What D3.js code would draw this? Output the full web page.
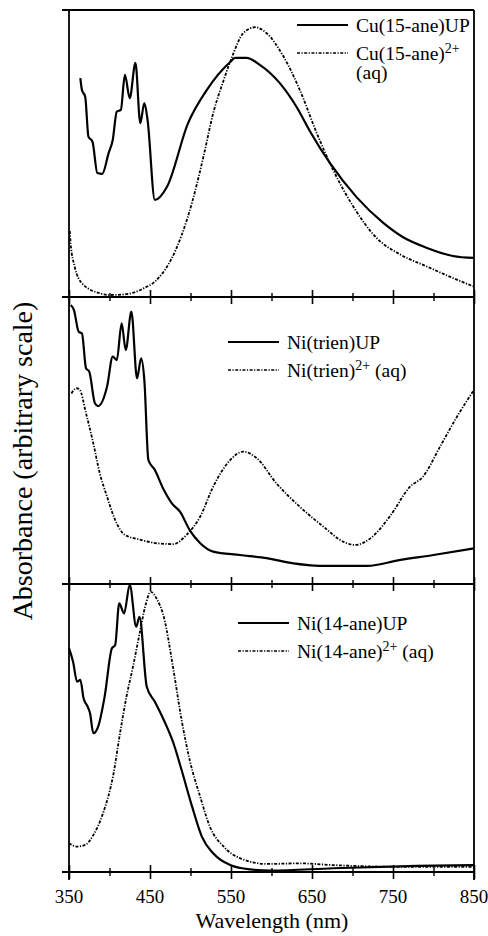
<!DOCTYPE html>
<html>
<head>
<meta charset="utf-8">
<script src="https://cdn.jsdelivr.net/npm/d3@7/dist/d3.min.js"></script>
<style>
  body { margin: 0; background: #fff; }
</style>
</head>
<body>
<svg id="chart" width="488" height="936"></svg>
<script>
// wavelength (nm) / absorbance (arbitrary, 0..1 per panel)
var cuUpWl  = [364, 366, 370, 374, 379, 385, 391, 399, 404, 409, 414, 419, 425, 432, 438, 443, 447, 456, 471, 497, 520, 549, 555, 569, 586, 610, 631, 648, 672, 705, 738, 762, 792, 824, 850];
var cuUpAbs = [0.763, 0.721, 0.698, 0.559, 0.541, 0.432, 0.429, 0.502, 0.547, 0.646, 0.652, 0.774, 0.693, 0.816, 0.606, 0.676, 0.617, 0.338, 0.384, 0.606, 0.721, 0.819, 0.833, 0.833, 0.808, 0.746, 0.662, 0.575, 0.467, 0.348, 0.258, 0.209, 0.171, 0.143, 0.136];

var cuAqWl  = [351, 352, 357, 366, 388, 401, 421, 442, 458, 475, 489, 502, 516, 528, 541, 553, 565, 580, 594, 615, 635, 656, 676, 701, 730, 759, 792, 820, 850];
var cuAqAbs = [0.23, 0.187, 0.106, 0.048, 0.013, 0.007, 0.010, 0.030, 0.059, 0.125, 0.215, 0.33, 0.489, 0.640, 0.756, 0.849, 0.919, 0.940, 0.919, 0.837, 0.721, 0.570, 0.443, 0.315, 0.205, 0.148, 0.106, 0.071, 0.036];

var niTrUpWl  = [352, 356, 362, 366, 371, 375, 382, 386, 397, 404, 409, 415, 420, 427, 434, 439, 443, 448, 456, 467, 477, 487, 499, 512, 528, 561, 594, 627, 668, 718, 759, 800, 850];
var niTrUpAbs = [0.972, 0.955, 0.879, 0.873, 0.752, 0.740, 0.630, 0.620, 0.688, 0.792, 0.780, 0.908, 0.815, 0.949, 0.717, 0.786, 0.711, 0.432, 0.397, 0.328, 0.281, 0.252, 0.188, 0.142, 0.113, 0.101, 0.090, 0.072, 0.063, 0.063, 0.084, 0.101, 0.124];

var niTrAqWl  = [353, 359, 363, 371, 380, 388, 397, 407, 419, 436, 458, 479, 495, 512, 528, 549, 565, 582, 606, 635, 664, 689, 703, 722, 746, 771, 787, 808, 829, 850];
var niTrAqAbs = [0.664, 0.682, 0.678, 0.595, 0.490, 0.386, 0.304, 0.223, 0.171, 0.156, 0.142, 0.139, 0.171, 0.235, 0.339, 0.432, 0.461, 0.438, 0.351, 0.269, 0.200, 0.147, 0.136, 0.159, 0.235, 0.339, 0.374, 0.478, 0.583, 0.676];

var ni14UpWl  = [350, 355, 360, 364, 368, 373, 376, 380, 386, 394, 403, 407, 412, 418, 425, 433, 437, 446, 456, 467, 479, 489, 502, 514, 528, 549, 573, 600, 676, 779, 850];
var ni14UpAbs = [0.777, 0.730, 0.661, 0.667, 0.603, 0.574, 0.551, 0.482, 0.505, 0.609, 0.777, 0.788, 0.933, 0.898, 0.997, 0.852, 0.886, 0.643, 0.591, 0.528, 0.447, 0.354, 0.227, 0.123, 0.065, 0.024, 0.009, 0.005, 0.013, 0.021, 0.024];

var ni14AqWl  = [350, 360, 370, 380, 392, 405, 413, 421, 429, 438, 444, 451, 458, 467, 479, 489, 499, 512, 524, 541, 561, 594, 635, 676, 759, 850];
var ni14AqAbs = [0.100, 0.088, 0.094, 0.128, 0.204, 0.342, 0.482, 0.609, 0.713, 0.840, 0.921, 0.973, 0.950, 0.886, 0.701, 0.528, 0.389, 0.261, 0.157, 0.088, 0.048, 0.028, 0.030, 0.024, 0.018, 0.018];

var xTicks = [350, 450, 550, 650, 750, 850];
var xMinor = [400, 500, 600, 700, 800];

var panels = [
  { top: 10,  bottom: 297, solid: [cuUpWl, cuUpAbs], dash: [cuAqWl, cuAqAbs],
    legX: 297, legY: 25, solidName: "Cu(15-ane)UP", dashName: "Cu(15-ane)", dashTail: "", extraLine: "(aq)" },
  { top: 297, bottom: 584, solid: [niTrUpWl, niTrUpAbs], dash: [niTrAqWl, niTrAqAbs],
    legX: 228, legY: 342, solidName: "Ni(trien)UP", dashName: "Ni(trien)", dashTail: " (aq)" },
  { top: 584, bottom: 872, solid: [ni14UpWl, ni14UpAbs], dash: [ni14AqWl, ni14AqAbs],
    legX: 238, legY: 623, solidName: "Ni(14-ane)UP", dashName: "Ni(14-ane)", dashTail: " (aq)" }
];

var serif = '"Liberation Serif", Tinos, "Times New Roman", Times, "DejaVu Serif", serif';
var left = 69, right = 474, frameLeft = 62;
var svg = d3.select('#chart').attr('font-family', serif);

var x = d3.scaleLinear().domain([350, 850]).range([left, right]);

function pairs(arr) {
  return arr[0].map(function(w, i) { return [w, arr[1][i]]; });
}

panels.forEach(function(p, k) {
  var y = d3.scaleLinear().domain([0, 1]).range([p.bottom, p.top]);
  var line = d3.line()
    .x(function(d) { return x(d[0]); })
    .y(function(d) { return y(d[1]); })
    .curve(d3.curveMonotoneX);

  var g = svg.append('g');

  g.append('path')
    .attr('d', line(pairs(p.dash)))
    .attr('fill', 'none')
    .attr('stroke', '#000')
    .attr('stroke-width', 1.8)
    .attr('stroke-dasharray', '3,1.5,1.2,1.5');

  g.append('path')
    .attr('d', line(pairs(p.solid)))
    .attr('fill', 'none')
    .attr('stroke', '#000')
    .attr('stroke-width', 2.2)
    .attr('stroke-linejoin', 'round');

  // ticks crossing the panel's bottom line
  var axis = d3.axisBottom(x).tickValues(xTicks).tickSize(7).tickSizeOuter(0).tickFormat('');
  var ag = g.append('g').attr('transform', 'translate(0,' + p.bottom + ')').call(axis);
  ag.select('.domain').remove();
  ag.selectAll('.tick line').attr('y1', -7).attr('stroke-width', 1.6);
  var minor = d3.axisBottom(x).tickValues(xMinor).tickSize(4).tickFormat('');
  var mg = g.append('g').attr('transform', 'translate(0,' + p.bottom + ')').call(minor);
  mg.select('.domain').remove();
  mg.selectAll('.tick line').attr('y1', -4).attr('stroke-width', 1.4);

  // panel bottom line
  g.append('line')
    .attr('x1', frameLeft).attr('x2', right)
    .attr('y1', p.bottom).attr('y2', p.bottom)
    .attr('stroke', '#000').attr('stroke-width', 1.8);

  // legend
  var lg = g.append('g').attr('transform', 'translate(' + p.legX + ',' + p.legY + ')');
  lg.append('line').attr('x1', 0).attr('x2', 51).attr('y1', 0).attr('y2', 0)
    .attr('stroke', '#000').attr('stroke-width', 1.8);
  lg.append('text').attr('x', 59).attr('y', 6.5).attr('font-size', 19.5).attr('font-family', serif).text(p.solidName);
  lg.append('line').attr('x1', 0).attr('x2', 51).attr('y1', 28).attr('y2', 28)
    .attr('stroke', '#000').attr('stroke-width', 1.6)
    .attr('stroke-dasharray', '3,1.5,1.2,1.5');
  var t = lg.append('text').attr('x', 59).attr('y', 34.5).attr('font-size', 19.5).attr('font-family', serif);
  t.append('tspan').text(p.dashName);
  t.append('tspan').attr('font-size', 14).attr('dy', -7).text('2+');
  if (p.dashTail) t.append('tspan').attr('dy', 7).text(p.dashTail);
  if (p.extraLine) lg.append('text').attr('x', 59).attr('y', 54).attr('font-size', 19.5).attr('font-family', serif).text(p.extraLine);
});

// frame
svg.append('line').attr('x1', frameLeft).attr('x2', right).attr('y1', 10).attr('y2', 10)
  .attr('stroke', '#000').attr('stroke-width', 1.8);
svg.append('line').attr('x1', left).attr('x2', left).attr('y1', 10).attr('y2', 880)
  .attr('stroke', '#000').attr('stroke-width', 1.8);
svg.append('line').attr('x1', right).attr('x2', right).attr('y1', 10).attr('y2', 880)
  .attr('stroke', '#000').attr('stroke-width', 1.8);

// x tick labels
svg.selectAll('.xlab').data(xTicks).enter().append('text')
  .attr('class', 'xlab')
  .attr('x', function(d) { return x(d); })
  .attr('y', 903)
  .attr('text-anchor', 'middle')
  .attr('font-size', 19)
  .attr('font-family', serif)
  .text(function(d) { return d; });

svg.append('text')
  .attr('x', 272).attr('y', 928)
  .attr('text-anchor', 'middle')
  .attr('font-size', 22)
  .attr('font-family', serif)
  .text('Wavelength (nm)');

svg.append('text')
  .attr('transform', 'translate(32,461) rotate(-90)')
  .attr('text-anchor', 'middle')
  .attr('font-size', 28)
  .attr('font-family', serif)
  .text('Absorbance (arbitrary scale)');
</script>
</body>
</html>
